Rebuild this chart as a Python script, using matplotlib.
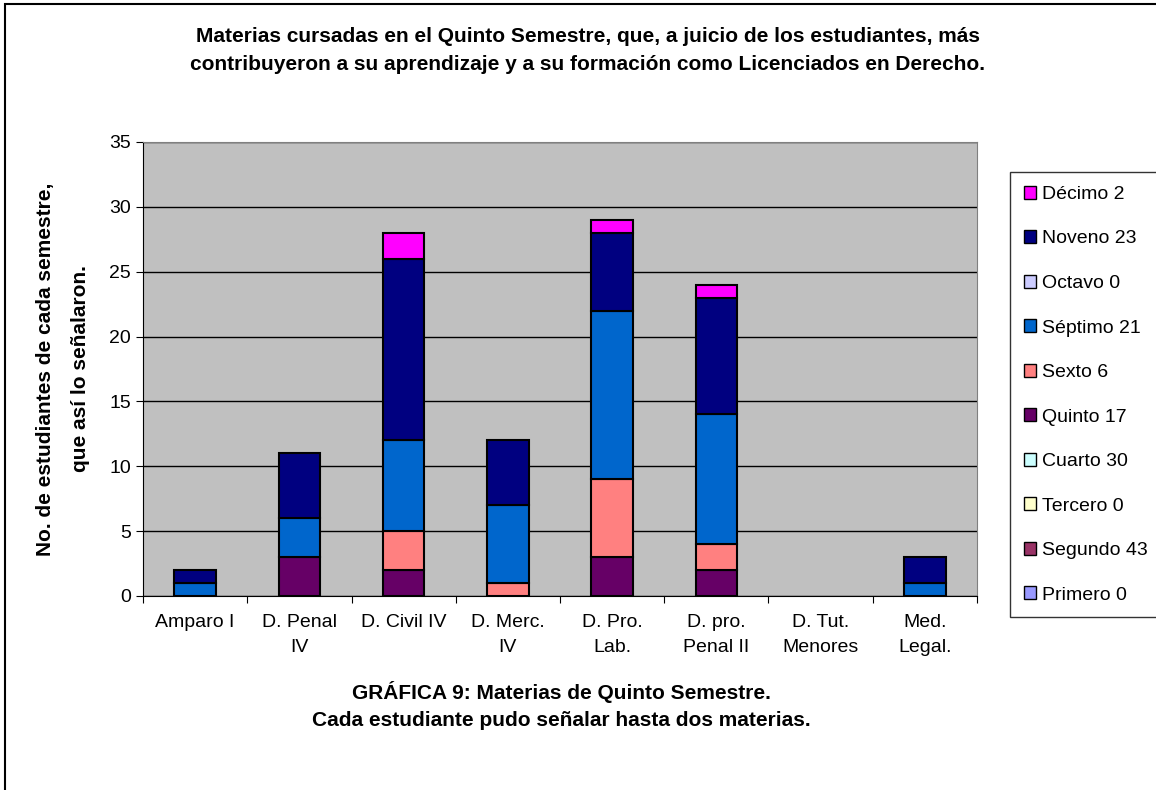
import numpy as np
import matplotlib
matplotlib.use("Agg")
import matplotlib.pyplot as plt
from matplotlib.patches import Rectangle, Patch

plt.rcParams["font.family"] = ["Liberation Sans", "DejaVu Sans"]

materias = ["Amparo I", "D. Penal\nIV", "D. Civil IV", "D. Merc.\nIV", "D. Pro.\nLab.",
            "D. pro.\nPenal II", "D. Tut.\nMenores", "Med.\nLegal."]

# series, bottom to top
semestres = ["Primero 0", "Segundo 43", "Tercero 0", "Cuarto 30", "Quinto 17",
             "Sexto 6", "Séptimo 21", "Octavo 0", "Noveno 23", "Décimo 2"]
colores = ["#9999FF", "#993366", "#FFFFCC", "#CCFFFF", "#660066",
           "#FF8080", "#0066CC", "#CCCCFF", "#000080", "#FF00FF"]
primero = [0, 0, 0, 0, 0, 0, 0, 0]
segundo = [0, 0, 0, 0, 0, 0, 0, 0]
tercero = [0, 0, 0, 0, 0, 0, 0, 0]
cuarto = [0, 0, 0, 0, 0, 0, 0, 0]
quinto = [0, 3, 2, 0, 3, 2, 0, 0]
sexto = [0, 0, 3, 1, 6, 2, 0, 0]
septimo = [1, 3, 7, 6, 13, 10, 0, 1]
octavo = [0, 0, 0, 0, 0, 0, 0, 0]
noveno = [1, 5, 14, 5, 6, 9, 0, 2]
decimo = [0, 0, 2, 0, 1, 1, 0, 0]
valores = [primero, segundo, tercero, cuarto, quinto, sexto, septimo, octavo, noveno, decimo]

fig = plt.figure(figsize=(11.56, 7.90), dpi=100)
ax = fig.add_axes([143/1156, 1-596/790, (977-143)/1156, (596-142)/790])
ax.set_facecolor("#C0C0C0")

x = np.arange(len(materias))
base = np.zeros(len(materias))
for nombre, col, vals in zip(semestres, colores, valores):
    v = np.array(vals, dtype=float)
    m = v > 0
    ax.bar(x[m], v[m], bottom=base[m], width=0.4, color=col, edgecolor="black", linewidth=1.5, zorder=3)
    base += v

ax.set_ylim(0, 35)
ax.set_xlim(-0.5, len(materias)-0.5)
ax.set_yticks(range(0, 36, 5))
ax.tick_params(axis="y", labelsize=14, direction="out", length=5)
ax.set_xticks(np.arange(-0.5, len(materias), 1))
ax.set_xticklabels([])
ax.set_xticks(x, minor=True)
ax.set_xticklabels(materias, minor=True, fontsize=14, linespacing=1.6, va="top")
ax.tick_params(axis="x", which="minor", length=0, pad=13)
ax.tick_params(axis="x", which="major", length=5, direction="out")
ax.yaxis.grid(True, color="black", linewidth=1, zorder=1)
ax.set_axisbelow(True)
for s in ["top", "right"]:
    ax.spines[s].set_color("#808080")
ax.spines["left"].set_color("black")
ax.spines["bottom"].set_color("black")
ax.set_ylabel("No. de estudiantes de cada semestre,\nque así lo señalaron.", fontsize=15,
              fontweight="bold", labelpad=14, linespacing=2.1)

fig.text(588/1156, 1-37/790, "Materias cursadas en el Quinto Semestre, que, a juicio de los estudiantes, más",
         ha="center", va="center", fontsize=15, fontweight="bold")
fig.text(588/1156, 1-65/790, "contribuyeron a su aprendizaje y a su formación como Licenciados en Derecho.",
         ha="center", va="center", fontsize=15, fontweight="bold")
fig.text(561/1156, 1-692/790, "GRÁFICA 9: Materias de Quinto Semestre.",
         ha="center", va="center", fontsize=15, fontweight="bold")
fig.text(561/1156, 1-721/790, "Cada estudiante pudo señalar hasta dos materias.",
         ha="center", va="center", fontsize=15, fontweight="bold")

handles = [Patch(facecolor=c, edgecolor="black", linewidth=1) for c in colores][::-1]
leg = fig.legend(handles, semestres[::-1], loc="upper left",
                 bbox_to_anchor=(1010/1156, 1-172/790), fontsize=14,
                 handlelength=0.65, handleheight=0.65, handletextpad=0.3,
                 labelspacing=1.4, borderpad=0.7, borderaxespad=0, frameon=True,
                 fancybox=False, edgecolor="black")
leg.get_frame().set_linewidth(1)

fig.patches.append(Rectangle((5/1156, -0.1), 1.2, 1 - 4/790 + 0.1, transform=fig.transFigure,
                             fill=False, edgecolor="black", linewidth=1.5))

fig.savefig("out.png", dpi=100)
